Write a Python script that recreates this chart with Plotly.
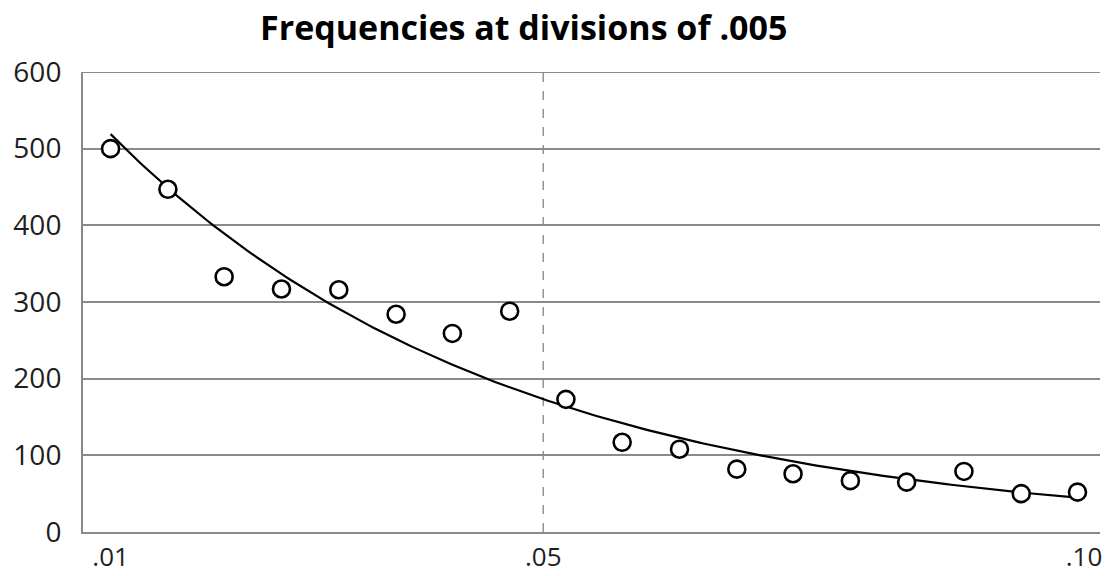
import numpy as np
import plotly.graph_objects as go

# Data
bin_x = [0.0100, 0.0153, 0.0205, 0.0258, 0.0311, 0.0364, 0.0416, 0.0469, 0.0521,
         0.0573, 0.0626, 0.0679, 0.0731, 0.0784, 0.0836, 0.0889, 0.0942, 0.0994]
freq = [500, 447, 333, 317, 316, 284, 259, 288, 173,
        117, 108, 82, 76, 67, 65, 79, 50, 52]
x_tickvals = [0.01, 0.05, 0.10]
x_ticktext = [".01", ".05", ".10"]
y_tickvals = [0, 100, 200, 300, 400, 500, 600]
title_text = "Frequencies at divisions of .005"
cutoff = 0.05

# Exponential trendline (least squares on ln y, as a spreadsheet trendline)
b, a = np.polyfit(np.array(bin_x), np.log(np.array(freq)), 1)
tx = np.linspace(min(bin_x), max(bin_x), 200)
ty = np.exp(a + b * tx)

FONT = "Open Sans"
GRID = "#8a8a8a"
TXT = "#1e1e1e"

fig = go.Figure()
fig.add_trace(go.Scatter(x=tx, y=ty, mode="lines",
                         line=dict(color="black", width=2.2),
                         hoverinfo="skip", showlegend=False))
fig.add_trace(go.Scatter(x=bin_x, y=freq, mode="markers",
                         marker=dict(symbol="circle", size=17, color="white",
                                     line=dict(color="black", width=2.6)),
                         showlegend=False))

fig.add_shape(type="line", x0=cutoff, x1=cutoff, y0=0, y1=max(y_tickvals),
              xref="x", yref="y", layer="below",
              line=dict(color="#7a7a7a", width=1.2, dash="dash"))
# top gridline at the range edge
fig.add_shape(type="line", x0=0, x1=1, y0=max(y_tickvals), y1=max(y_tickvals),
              xref="paper", yref="y", layer="below",
              line=dict(color=GRID, width=2))

fig.update_layout(
    width=1112, height=576,
    margin=dict(l=83, r=12, t=72, b=44, autoexpand=False),
    paper_bgcolor="white", plot_bgcolor="white",
    title=dict(text="<b>" + title_text + "</b>", x=0.471, xanchor="center",
               y=0.952, yanchor="middle",
               font=dict(family=FONT, size=34, color="black")),
    font=dict(family=FONT, color=TXT),
    xaxis=dict(range=[0.00745, 0.10148], tickvals=x_tickvals, ticktext=x_ticktext,
               showgrid=False, zeroline=False, showline=True,
               linecolor=GRID, linewidth=2, automargin=False,
               ticks="", ticklabelstandoff=1,
               tickfont=dict(family=FONT, size=26, color=TXT)),
    yaxis=dict(range=[0, 600], tickvals=y_tickvals, showgrid=True,
               gridcolor=GRID, gridwidth=2, zeroline=False,
               showline=True, linecolor=GRID, linewidth=2, automargin=False,
               ticks="", ticklabelstandoff=14,
               tickfont=dict(family=FONT, size=28, color=TXT)),
)
fig.write_html("out.html", config={"displayModeBar": False},
               post_script="document.body.style.margin='0';document.body.style.overflow='hidden';")
